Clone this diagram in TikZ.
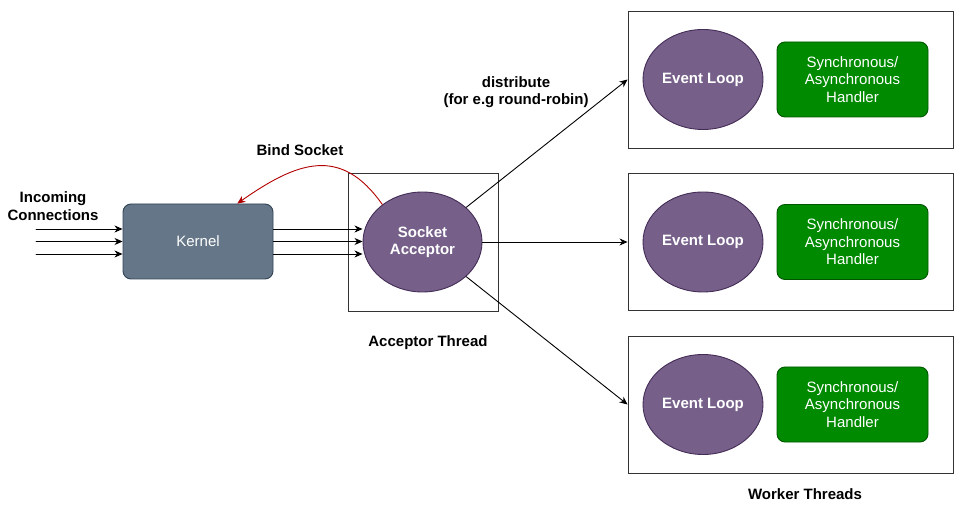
\documentclass[tikz,border=0pt]{standalone}
\usepackage{fontspec}
\setmainfont{Liberation Sans}
\usetikzlibrary{arrows.meta,shapes.geometric}

\definecolor{kernelfill}{HTML}{647687}
\definecolor{kerneldraw}{HTML}{314354}
\definecolor{loopfill}{HTML}{76608A}
\definecolor{loopdraw}{HTML}{432D57}
\definecolor{handlerfill}{HTML}{008A00}
\definecolor{handlerdraw}{HTML}{005700}
\definecolor{bindred}{HTML}{B20000}

\begin{document}
\begin{tikzpicture}[x=1pt, y=-1pt, >={Stealth[length=8pt, width=7pt, inset=2.5pt]},
  line cap=round, line width=0.9pt, font=\fontsize{15}{17.5}\selectfont,
  thread/.style={draw=black!80, minimum width=#1, minimum height=137pt, inner sep=0pt},
  thread/.default=325pt,
  kernelbox/.style={rounded corners=8pt, draw=kerneldraw, fill=kernelfill, text=white,
    minimum width=150pt, minimum height=75pt},
  evloop/.style={ellipse, draw=loopdraw, fill=loopfill, text=white, font=\fontsize{15}{17.5}\selectfont\bfseries,
    minimum width=120pt, minimum height=100pt, inner sep=0pt, align=center},
  handler/.style={rounded corners=8pt, draw=handlerdraw, fill=handlerfill, text=white,
    minimum width=151pt, minimum height=75pt, inner sep=0pt, align=center},
  lbl/.style={font=\fontsize{15}{17.5}\selectfont\bfseries, align=center}]
  \useasboundingbox (0,0) rectangle (961,510);
  % kernel and incoming connections
  \node[kernelbox] (k) at (198,241.5) {Kernel};
  \coordinate (in1) at (36,229);
  \coordinate (in2) at (36,241.5);
  \coordinate (in3) at (36,254);
  \node[lbl] (inc) at (53,206) {Incoming\\Connections};
  % acceptor thread
  \node[thread=150pt, minimum height=138pt] (at) at (423,242) {};
  \node[evloop, minimum width=119pt] (sa) at (422.5,242) {Socket\\Acceptor};
  \node[lbl] (atl) at (428,343) {Acceptor Thread};
  \foreach \i in {1,2,3} {
    \draw[->] (in\i) -- (in\i -| k.west);
    \draw[->] (in\i -| k.east) -- (in\i -| sa.west);
  }
  % bind socket back to the kernel
  \draw[->, bindred] (sa.137) to[out=125, in=35, looseness=1.28] (k.44);
  \node[lbl] (bind) at (300,150) {Bind Socket};
  % worker threads
  \foreach \i/\y in {1/79.5, 2/242, 3/404.5} {
    \node[thread] (w\i) at (790.5,\y) {};
    \node[evloop] (el\i) at (703,\y) {Event Loop};
    \node[handler] (h\i) at (852.5,\y) {Synchronous/\\Asynchronous\\Handler};
    \draw[->] (sa) -- (w\i.west);
  }
  \node[lbl] (dist) at (516,92) {distribute\\(for e.g round-robin)};
  \node[lbl] (wt) at (805,494) {Worker Threads};
\end{tikzpicture}
\end{document}
